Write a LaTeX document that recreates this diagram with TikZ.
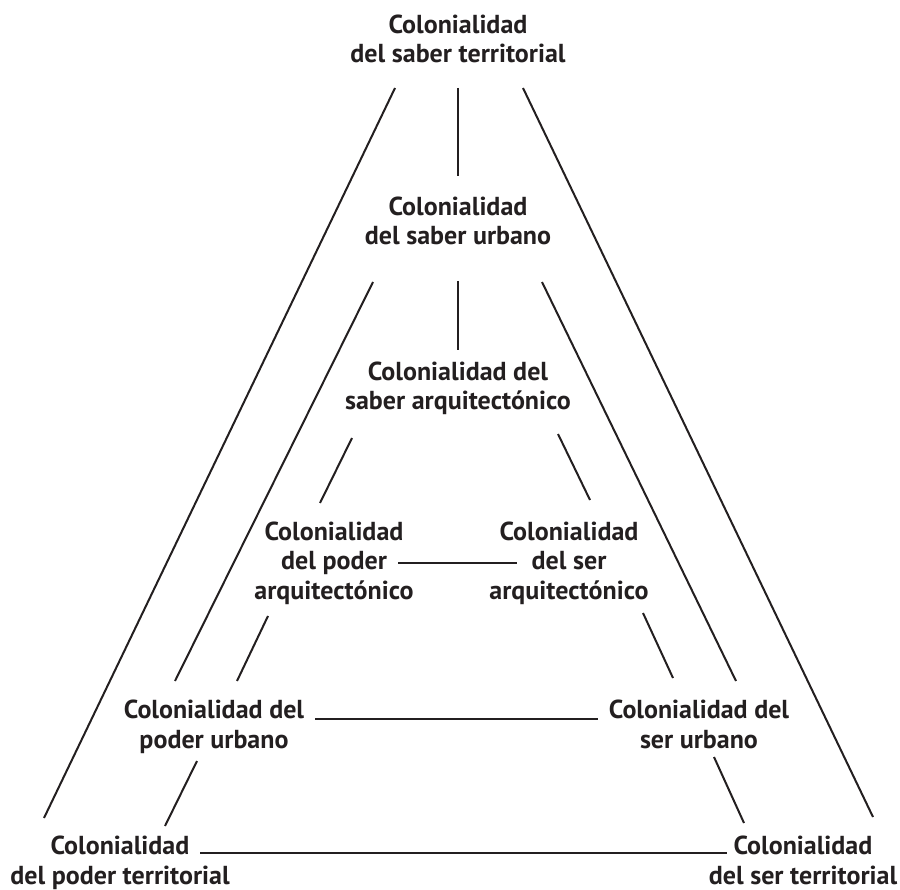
\documentclass[tikz,border=0pt]{standalone}
\usepackage{fontspec}
\setmainfont{PT Sans}
\definecolor{ink}{HTML}{231F20}
\begin{document}
\begin{tikzpicture}[x=1pt,y=-1pt,
  lbl/.style={align=center,anchor=base,inner sep=0pt,text=ink,
    font=\bfseries\fontsize{26}{29.2}\selectfont},
  link/.style={draw=ink,line width=2pt}]
\useasboundingbox (0,0) rectangle (900,890);
\node[lbl] (A) at (458,63) {Colonialidad\\del saber territorial};
\node[lbl] (B) at (458,245) {Colonialidad\\del saber urbano};
\node[lbl] (C) at (458,410) {Colonialidad del\\saber arquitectónico};
\node[lbl] (D) at (334,599) {Colonialidad\\del poder\\arquitectónico};
\node[lbl] (E) at (569,599) {Colonialidad\\del ser\\arquitectónico};
\node[lbl] (F) at (214,748) {Colonialidad del\\poder urbano};
\node[lbl] (G) at (699,748) {Colonialidad del\\ser urbano};
\node[lbl] (H) at (120,884) {Colonialidad\\del poder territorial};
\node[lbl] (I) at (803,884) {Colonialidad\\del ser territorial};
\draw[link] ([shift={(0,25)}]A.base) -- ([shift={(0,-69)}]B.base);
\draw[link] ([shift={(0,36)}]B.base) -- ([shift={(0,-60)}]C.base);
\draw[link] ([shift={(-63,25)}]A.base) -- ([shift={(-76,-66)}]H.base);
\draw[link] ([shift={(65,25)}]A.base) -- ([shift={(70,-67)}]I.base);
\draw[link] ([shift={(-85,37)}]B.base) -- ([shift={(-39,-67)}]F.base);
\draw[link] ([shift={(84,37)}]B.base) -- ([shift={(37,-67)}]G.base);
\draw[link] ([shift={(-106,28)}]C.base) -- ([shift={(-14,-96)}]D.base);
\draw[link] ([shift={(100,24)}]C.base) -- ([shift={(21,-99)}]E.base);
\draw[link] ([shift={(64,-36)}]D.base) -- ([shift={(-52,-36)}]E.base);
\draw[link] ([shift={(-66,17)}]D.base) -- ([shift={(23,-67)}]F.base);
\draw[link] ([shift={(74,14)}]E.base) -- ([shift={(-26,-70)}]G.base);
\draw[link] ([shift={(101,-29)}]F.base) -- ([shift={(-101,-29)}]G.base);
\draw[link] ([shift={(-17,13)}]F.base) -- ([shift={(45,-58)}]H.base);
\draw[link] ([shift={(15,9)}]G.base) -- ([shift={(-59,-61)}]I.base);
\draw[link] ([shift={(80,-31)}]H.base) -- ([shift={(-76,-31)}]I.base);
\end{tikzpicture}
\end{document}
